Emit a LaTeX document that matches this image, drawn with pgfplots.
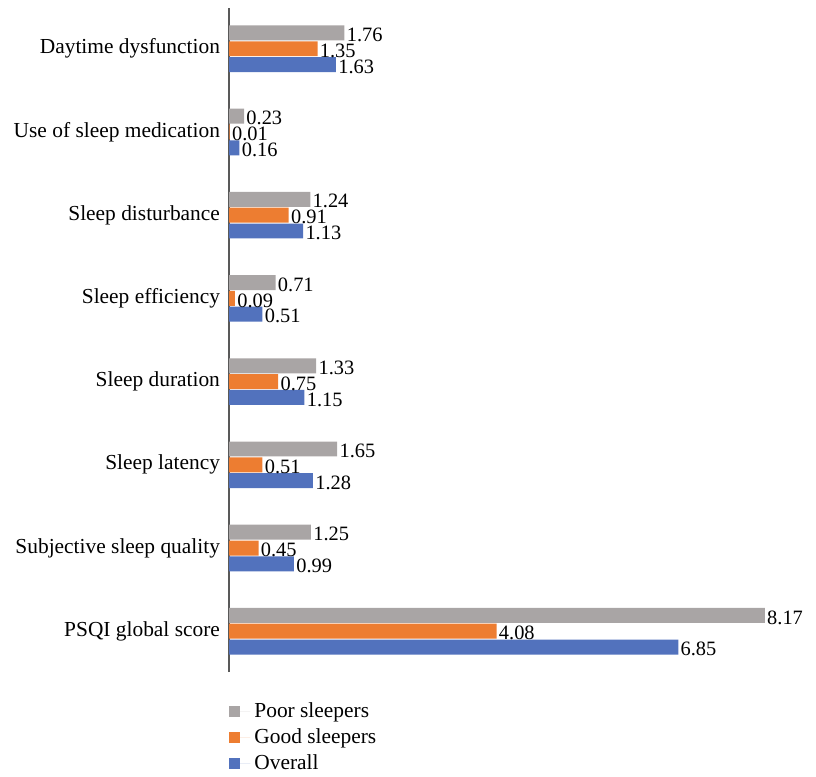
\documentclass[border=0pt]{standalone}
\usepackage{pgfplots}
\pgfplotsset{compat=1.18}
\usepackage{fontspec}
\setmainfont{Liberation Serif}
\definecolor{poor}{HTML}{A9A5A5}
\definecolor{good}{HTML}{ED7D31}
\definecolor{overall}{HTML}{5272BD}
\definecolor{axisgray}{HTML}{595959}

\begin{document}
\begin{tikzpicture}
\begin{axis}[
    name=ax,
    scale only axis,
    width=293.5pt, height=332pt,
    xbar,
    bar width=0.18,
    xmin=0, xmax=8.95,
    ymin=-0.49, ymax=7.49,
    axis x line=none,
    axis y line*=left,
    y axis line style={axisgray, line width=1pt},
    ytick={0,...,7},
    yticklabels={PSQI global score, Subjective sleep quality, Sleep latency,
        Sleep duration, Sleep efficiency, Sleep disturbance,
        Use of sleep medication, Daytime dysfunction},
    major tick length=0pt,
    yticklabel style={font=\fontsize{10.7}{13}\selectfont, xshift=-1pt},
    /pgf/number format/assume math mode=true,
    nodes near coords={\pgfmathprintnumber[fixed,zerofill,precision=2]{\pgfplotspointmeta}},
    every node near coord/.append style={font=\fontsize{10.2}{12}\selectfont, anchor=west, inner xsep=1pt, yshift=-1pt, black},
    clip=false,
    legend style={draw=none, at={(0,-0.04)}, anchor=north west,
        font=\fontsize{10.7}{13}\selectfont, cells={anchor=west},
        row sep=0pt, inner xsep=0pt, inner ysep=0pt},
    legend image code/.code={\fill[#1] (0pt,-2.75pt) rectangle (5.5pt,2.75pt);
        \path (0pt,0pt) -- (10.5pt,0pt);},
]
\addplot[fill=poor, draw=none, bar shift=0.19] coordinates {
    (8.17,0) (1.25,1) (1.65,2) (1.33,3) (0.71,4) (1.24,5) (0.23,6) (1.76,7)};
\addplot[fill=good, draw=none, bar shift=0] coordinates {
    (4.08,0) (0.45,1) (0.51,2) (0.75,3) (0.09,4) (0.91,5) (0.01,6) (1.35,7)};
\addplot[fill=overall, draw=none, bar shift=-0.19] coordinates {
    (6.85,0) (0.99,1) (1.28,2) (1.15,3) (0.51,4) (1.13,5) (0.16,6) (1.63,7)};
\legend{Poor sleepers, Good sleepers, Overall}
\end{axis}
\path ([xshift=-114.5pt,yshift=4pt]ax.north west) rectangle ([yshift=-49.5pt]ax.south east);
\end{tikzpicture}
\end{document}
